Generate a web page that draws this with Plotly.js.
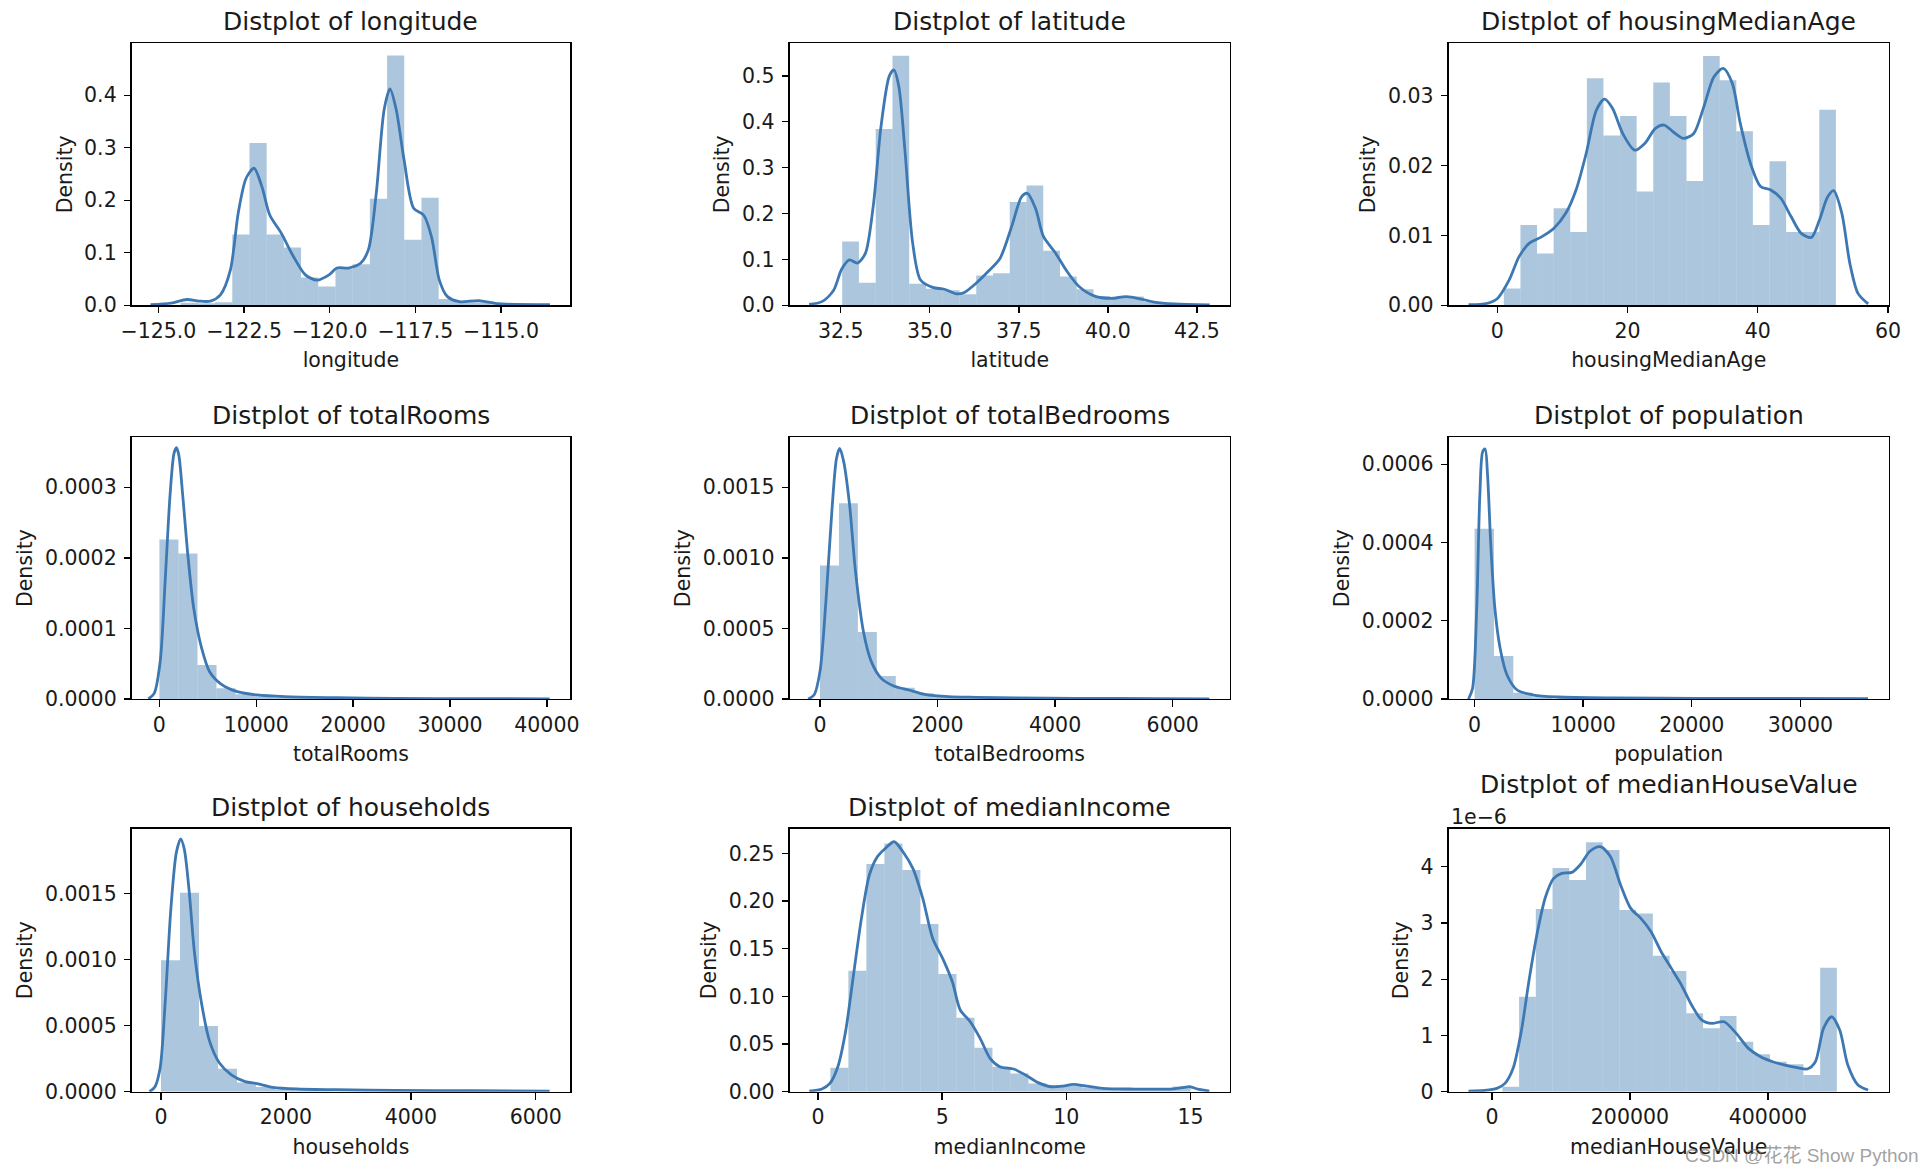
<!DOCTYPE html>
<html><head><meta charset="utf-8">
<script src="https://cdn.plot.ly/plotly-3.0.1.min.js"></script>
<style>html,body{margin:0;padding:0;background:#fff}#chart{width:1926px;height:1174px}</style>
</head><body><div id="chart"></div>
<script>
// ---------- DATA ----------
const variables = ['longitude','latitude','housingMedianAge','totalRooms','totalBedrooms','population','households','medianIncome','medianHouseValue'];

// data range (min, max) of each column -> 20 equal histogram bins
const longitudeRange = [-124.35, -114.31];
const latitudeRange = [32.54, 41.95];
const housingMedianAgeRange = [1, 52];
const totalRoomsRange = [2, 39320];
const totalBedroomsRange = [1, 6445];
const populationRange = [3, 35682];
const householdsRange = [1, 6082];
const medianIncomeRange = [0.4999, 15.0001];
const medianHouseValueRange = [14999, 500001];

// histogram densities (20 bins each)
const longitudeDensity = [0.005,0.004,0.006,0.135,0.309,0.135,0.110,0.053,0.036,0.069,0.078,0.203,0.476,0.125,0.205,0.012,0.006,0.006,0.002,0.001];
const latitudeDensity = [0.139,0.049,0.384,0.544,0.047,0.036,0.033,0.024,0.065,0.070,0.225,0.261,0.119,0.063,0.035,0.020,0.017,0.019,0.007,0.003];
const housingMedianAgeDensity = [0.0024,0.0115,0.0074,0.0139,0.0105,0.0325,0.0243,0.0271,0.0163,0.0319,0.0271,0.0178,0.0357,0.0322,0.0249,0.0115,0.0206,0.0105,0.0105,0.0280];
const totalRoomsDensity = [0.000226,0.000206,0.0000482,0.0000151,0.0000066,0.0000038,0.0000024,0.0000014,0.0000009,0.0000006,0.0000004,0.0000003,0.0000002,0.0000002,0.0000001,0.0000001,0.0000001,0.00000005,0.00000005,0.00000005];
const totalBedroomsDensity = [0.000945,0.001387,0.000475,0.000163,0.0000803,0.000040,0.000018,0.000010,0.000006,0.000004,0.000003,0.000002,0.0000015,0.000001,0.000001,0.0000005,0.0000005,0.0000003,0.0000002,0.0000002];
const populationDensity = [0.000435,0.000110,0.0000162,0.0000045,0.0000016,0.0000008,0.0000005,0.0000003,0.0000002,0.0000001,0.0000001,0.00000005,0.00000005,0.00000003,0.00000003,0.00000002,0.00000002,0.00000001,0.00000001,0.00000001];
const householdsDensity = [0.000995,0.001505,0.000497,0.000173,0.000069,0.000035,0.000015,0.000009,0.000006,0.000004,0.000003,0.000002,0.0000015,0.000001,0.000001,0.0000008,0.0000005,0.0000004,0.0000003,0.0000003];
const medianIncomeDensity = [0.0252,0.127,0.2388,0.2605,0.2325,0.1759,0.1234,0.0776,0.0462,0.0262,0.0192,0.0087,0.0070,0.0060,0.0045,0.0030,0.0025,0.0025,0.0020,0.0055];
const medianHouseValueDensity = [0.089e-6,1.689e-6,3.247e-6,3.976e-6,3.763e-6,4.433e-6,4.296e-6,3.23e-6,3.17e-6,2.418e-6,2.145e-6,1.393e-6,1.126e-6,1.345e-6,0.889e-6,0.664e-6,0.533e-6,0.486e-6,0.296e-6,2.204e-6];

// KDE curves
const longitudeKdeX = [-125.23,-124.63,-124.17,-123.82,-123.48,-123.19,-122.9,-122.67,-122.44,-122.21,-121.98,-121.75,-121.41,-121.06,-120.71,-120.37,-120.02,-119.79,-119.45,-119.1,-118.87,-118.64,-118.41,-118.24,-118.06,-117.83,-117.55,-117.26,-117.03,-116.8,-116.57,-116.22,-115.65,-115.07,-113.57];
const longitudeKdeY = [0.001,0.004,0.011,0.008,0.008,0.02,0.067,0.176,0.242,0.261,0.226,0.172,0.137,0.093,0.058,0.048,0.058,0.071,0.071,0.080,0.106,0.214,0.373,0.412,0.373,0.277,0.185,0.172,0.131,0.048,0.017,0.007,0.009,0.003,0.001];
const latitudeKdeX = [31.61,31.97,32.3,32.52,32.74,32.97,33.19,33.41,33.63,33.86,33.99,34.13,34.3,34.52,34.74,35.08,35.41,35.74,35.97,36.3,36.63,36.97,37.3,37.58,37.74,37.97,38.19,38.52,38.86,39.19,39.63,40.08,40.52,40.97,41.3,41.86,42.86];
const latitudeKdeY = [0.002,0.008,0.033,0.078,0.099,0.092,0.113,0.215,0.39,0.499,0.513,0.477,0.339,0.135,0.055,0.039,0.035,0.025,0.028,0.048,0.073,0.102,0.172,0.237,0.244,0.211,0.15,0.115,0.073,0.041,0.02,0.015,0.019,0.013,0.007,0.003,0.001];
const housingMedianAgeKdeX = [-4.42,-1.93,-0.06,1.81,3.36,4.92,6.79,8.66,10.53,12.09,13.64,15.2,16.45,17.69,19.25,21.12,22.68,24.24,25.61,27.04,28.6,30.16,31.71,33.27,34.7,36.07,37.32,38.88,40.44,41.99,43.55,45.11,46.67,48.22,49.47,50.72,51.65,52.9,54.14,55.39,56.95];
const housingMedianAgeKdeY = [0.0001,0.0002,0.0009,0.0036,0.007,0.0089,0.0098,0.011,0.0132,0.0165,0.0217,0.0279,0.0295,0.0282,0.0246,0.0222,0.0232,0.0253,0.0258,0.0248,0.0239,0.0246,0.0284,0.0327,0.0339,0.0318,0.026,0.0203,0.017,0.0165,0.0153,0.0127,0.0103,0.0097,0.0122,0.0155,0.0164,0.0132,0.006,0.0017,0.0002];
const totalRoomsKdeX = [-1143,-531,82,612,1102,1510,1755,2000,2408,2939,3551,4367,5184,6408,8041,10082,12939,18245,24367,32531,40286];
const totalRoomsKdeY = [0,0.000008,0.0000529,0.000171,0.000289,0.000348,0.000356,0.000346,0.000289,0.000204,0.000128,0.0000718,0.0000387,0.0000208,0.0000104,0.0000057,0.0000033,0.0000019,0.0000009,0.0000005,0.0000003];
const totalBedroomsKdeX = [-202,-101,0,101,202,282,336,404,504,605,740,874,1043,1244,1513,1782,2186,2657,3330,4338,5684,6625];
const totalBedroomsKdeY = [0,0.000028,0.000194,0.00069,0.001328,0.001706,0.001776,0.001682,0.001375,0.000902,0.000477,0.000265,0.000146,0.0000945,0.0000638,0.0000331,0.0000165,0.0000118,0.0000071,0.0000047,0.0000024,0.0000012];
const populationKdeX = [-560,-187,187,486,747,971,1195,1494,1868,2353,2988,3922,5416,7658,12888,20359,36235];
const populationKdeY = [0,0.000027,0.000223,0.000522,0.000632,0.000639,0.000573,0.000394,0.000232,0.00013,0.0000614,0.000023,0.0000102,0.0000051,0.0000026,0.0000017,0.0000009];
const householdsKdeX = [-184,-95,-13,70,158,247,316,373,449,538,652,778,937,1127,1348,1538,1791,2171,2804,3753,5019,6222];
const householdsKdeY = [0,0.000038,0.000179,0.000689,0.001378,0.001811,0.001913,0.001837,0.001531,0.001046,0.000663,0.000383,0.000217,0.000128,0.0000765,0.0000612,0.0000332,0.0000204,0.0000153,0.0000102,0.0000077,0.000005];
const medianIncomeKdeX = [-0.35,0.16,0.48,0.8,1.11,1.43,1.75,2.07,2.39,2.71,3.07,3.42,3.82,4.22,4.62,5.02,5.41,5.73,6.13,6.53,6.93,7.32,7.88,8.36,8.84,9.39,9.87,10.27,10.83,11.46,12.74,14.17,14.65,14.97,15.29,15.76];
const medianIncomeKdeY = [0.0007,0.0028,0.0087,0.0262,0.0629,0.1224,0.1818,0.2273,0.2465,0.2552,0.2622,0.2517,0.2343,0.2028,0.1608,0.1399,0.1154,0.0857,0.0734,0.0559,0.035,0.0262,0.0238,0.0175,0.0098,0.0052,0.0059,0.0077,0.0059,0.0035,0.0028,0.0028,0.0042,0.0052,0.0028,0.0007];
const medianHouseValueKdeX = [-34118,-10588,7059,18824,30588,42353,54118,65882,77647,89412,101176,115882,127647,142353,157059,171765,186471,201176,215882,230588,245294,260000,274706,289412,304118,318824,336471,354118,371765,389412,407059,424706,442353,457059,468824,480588,492353,504118,515882,530588,545294];
const medianHouseValueKdeY = [0.012e-6,0.024e-6,0.059e-6,0.148e-6,0.415e-6,1.067e-6,2.015e-6,2.844e-6,3.467e-6,3.793e-6,3.881e-6,3.9e-6,4.03e-6,4.279e-6,4.356e-6,4.178e-6,3.674e-6,3.259e-6,3.081e-6,2.844e-6,2.489e-6,2.193e-6,1.896e-6,1.541e-6,1.274e-6,1.215e-6,1.244e-6,1.037e-6,0.770e-6,0.622e-6,0.533e-6,0.474e-6,0.427e-6,0.403e-6,0.533e-6,1.126e-6,1.333e-6,1.096e-6,0.474e-6,0.119e-6,0.030e-6];

// tick labels of the last panel (scaled by 1e-6)
const houseValueTickLabels = ['0','1','2','3','4'];
const watermarkText = 'CSDN @花花 Show Python';

// ---------- LAYOUT / STYLE ----------
const W = 1926, H = 1174;
const colPx = [[131.7,570.2],[789.5,1230],[1448.6,1888.8]];
const rowPx = [[43.3,305.3],[437.3,699],[828.7,1091.7]];
const barColor = 'rgba(70,130,180,0.45)';
const lineColor = '#3d78b2';
const font = 'DejaVu Sans';
const txt = '#1a1a1a';
const tickSize = 20.5, labelSize = 20.5, titleSize = 25;

const panels = [
  {range: longitudeRange, dens: longitudeDensity, kx: longitudeKdeX, ky: longitudeKdeY, xr:[-125.78,-112.98], yr:[0,0.499], xd:{dtick:2.5,tick0:0,tickformat:'.1f'}, yd:{dtick:0.1,tick0:0,tickformat:'.1f'}},
  {range: latitudeRange, dens: latitudeDensity, kx: latitudeKdeX, ky: latitudeKdeY, xr:[31.06,43.43], yr:[0,0.571], xd:{dtick:2.5,tick0:0,tickformat:'.1f'}, yd:{dtick:0.1,tick0:0,tickformat:'.1f'}},
  {range: housingMedianAgeRange, dens: housingMedianAgeDensity, kx: housingMedianAgeKdeX, ky: housingMedianAgeKdeY, xr:[-7.48,60.12], yr:[0,0.0375], xd:{dtick:20,tick0:0,tickformat:'d'}, yd:{dtick:0.01,tick0:0,tickformat:'.2f'}},
  {range: totalRoomsRange, dens: totalRoomsDensity, kx: totalRoomsKdeX, ky: totalRoomsKdeY, xr:[-2857,42408], yr:[0,0.0003708], xd:{dtick:10000,tick0:0,tickformat:'d'}, yd:{dtick:0.0001,tick0:0,tickformat:'.4f'}},
  {range: totalBedroomsRange, dens: totalBedroomsDensity, kx: totalBedroomsKdeX, ky: totalBedroomsKdeY, xr:[-518,6975], yr:[0,0.001854], xd:{dtick:2000,tick0:0,tickformat:'d'}, yd:{dtick:0.0005,tick0:0,tickformat:'.4f'}},
  {range: populationRange, dens: populationDensity, kx: populationKdeX, ky: populationKdeY, xr:[-2391,38140], yr:[0,0.000669], xd:{dtick:10000,tick0:0,tickformat:'d'}, yd:{dtick:0.0002,tick0:0,tickformat:'.4f'}},
  {range: householdsRange, dens: householdsDensity, kx: householdsKdeX, ky: householdsKdeY, xr:[-468,6551], yr:[0,0.00199], xd:{dtick:2000,tick0:0,tickformat:'d'}, yd:{dtick:0.0005,tick0:0,tickformat:'.4f'}},
  {range: medianIncomeRange, dens: medianIncomeDensity, kx: medianIncomeKdeX, ky: medianIncomeKdeY, xr:[-1.146,16.59], yr:[0,0.2759], xd:{dtick:5,tick0:0,tickformat:'d'}, yd:{dtick:0.05,tick0:0,tickformat:'.2f'}},
  {range: medianHouseValueRange, dens: medianHouseValueDensity, kx: medianHouseValueKdeX, ky: medianHouseValueKdeY, xr:[-62941,575294], yr:[0,4.676e-6], xd:{dtick:200000,tick0:0,tickformat:'d'}, yd:{tickmode:'array', tickvals:houseValueTickLabels.map(function(t){return Number(t)*1e-6;}), ticktext:houseValueTickLabels}}
];

const traces = [];
const layout = {
  width: W, height: H, margin: {l:0,r:0,t:0,b:0},
  paper_bgcolor: '#fff', plot_bgcolor: '#fff',
  showlegend: false, font: {family: font, color: txt, size: tickSize},
  annotations: []
};

panels.forEach(function(p, i){
  const n = i === 0 ? '' : String(i+1);
  const r = Math.floor(i/3), c = i % 3;
  const nb = p.dens.length;
  const w = (p.range[1]-p.range[0]) / nb;
  const centers = p.dens.map(function(_, k){ return p.range[0] + (k+0.5)*w; });
  traces.push({type:'bar', x:centers, y:p.dens, width:w, marker:{color:barColor, line:{width:0}}, xaxis:'x'+n, yaxis:'y'+n, hoverinfo:'skip'});
  traces.push({type:'scatter', mode:'lines', x:p.kx, y:p.ky, line:{color:lineColor, width:2.8, shape:'spline', smoothing:0.8}, xaxis:'x'+n, yaxis:'y'+n, hoverinfo:'skip'});
  const common = {showline:true, mirror:true, linecolor:'#000', linewidth:1.4, ticks:'outside', ticklen:6.5, tickwidth:1.4, tickcolor:'#000', showgrid:false, zeroline:false, automargin:false, tickfont:{family:font, size:tickSize, color:txt}};
  layout['xaxis'+n] = Object.assign({}, common, p.xd, {domain:[colPx[c][0]/W, colPx[c][1]/W], range:p.xr, anchor:'y'+n, ticklabelstandoff:0,
    title:{text:variables[i], font:{family:font, size:labelSize, color:txt}, standoff:11}});
  layout['yaxis'+n] = Object.assign({}, common, p.yd, {domain:[1-rowPx[r][1]/H, 1-rowPx[r][0]/H], range:p.yr, anchor:'x'+n, ticklabelstandoff:3,
    title:{text:'Density', font:{family:font, size:labelSize, color:txt}, standoff:6}});
  const titleY = (i === 8) ? rowPx[r][0] - 44 : rowPx[r][0] - 21.5;
  layout.annotations.push({xref:'paper', yref:'paper', x:(colPx[c][0]+colPx[c][1])/2/W, y:1-titleY/H, xanchor:'center', yanchor:'middle',
    text:'Distplot of ' + variables[i], showarrow:false, font:{family:font, size:titleSize, color:txt}});
});

// offset text of the last panel's y axis
layout.annotations.push({xref:'paper', yref:'paper', x:colPx[2][0]/W, y:1-(rowPx[2][0]-12)/H, xanchor:'left', yanchor:'middle',
  text:'1e\u22126', showarrow:false, font:{family:font, size:tickSize, color:txt}});
// watermark
layout.annotations.push({xref:'paper', yref:'paper', x:1683/W, y:1-1155/H, xanchor:'left', yanchor:'middle',
  text:watermarkText, showarrow:false, font:{family:'Liberation Sans, Noto Sans CJK SC', size:19, color:'rgba(120,120,120,0.7)'}});

Plotly.newPlot('chart', traces, layout, {staticPlot:true, displayModeBar:false});
</script>
</body></html>
